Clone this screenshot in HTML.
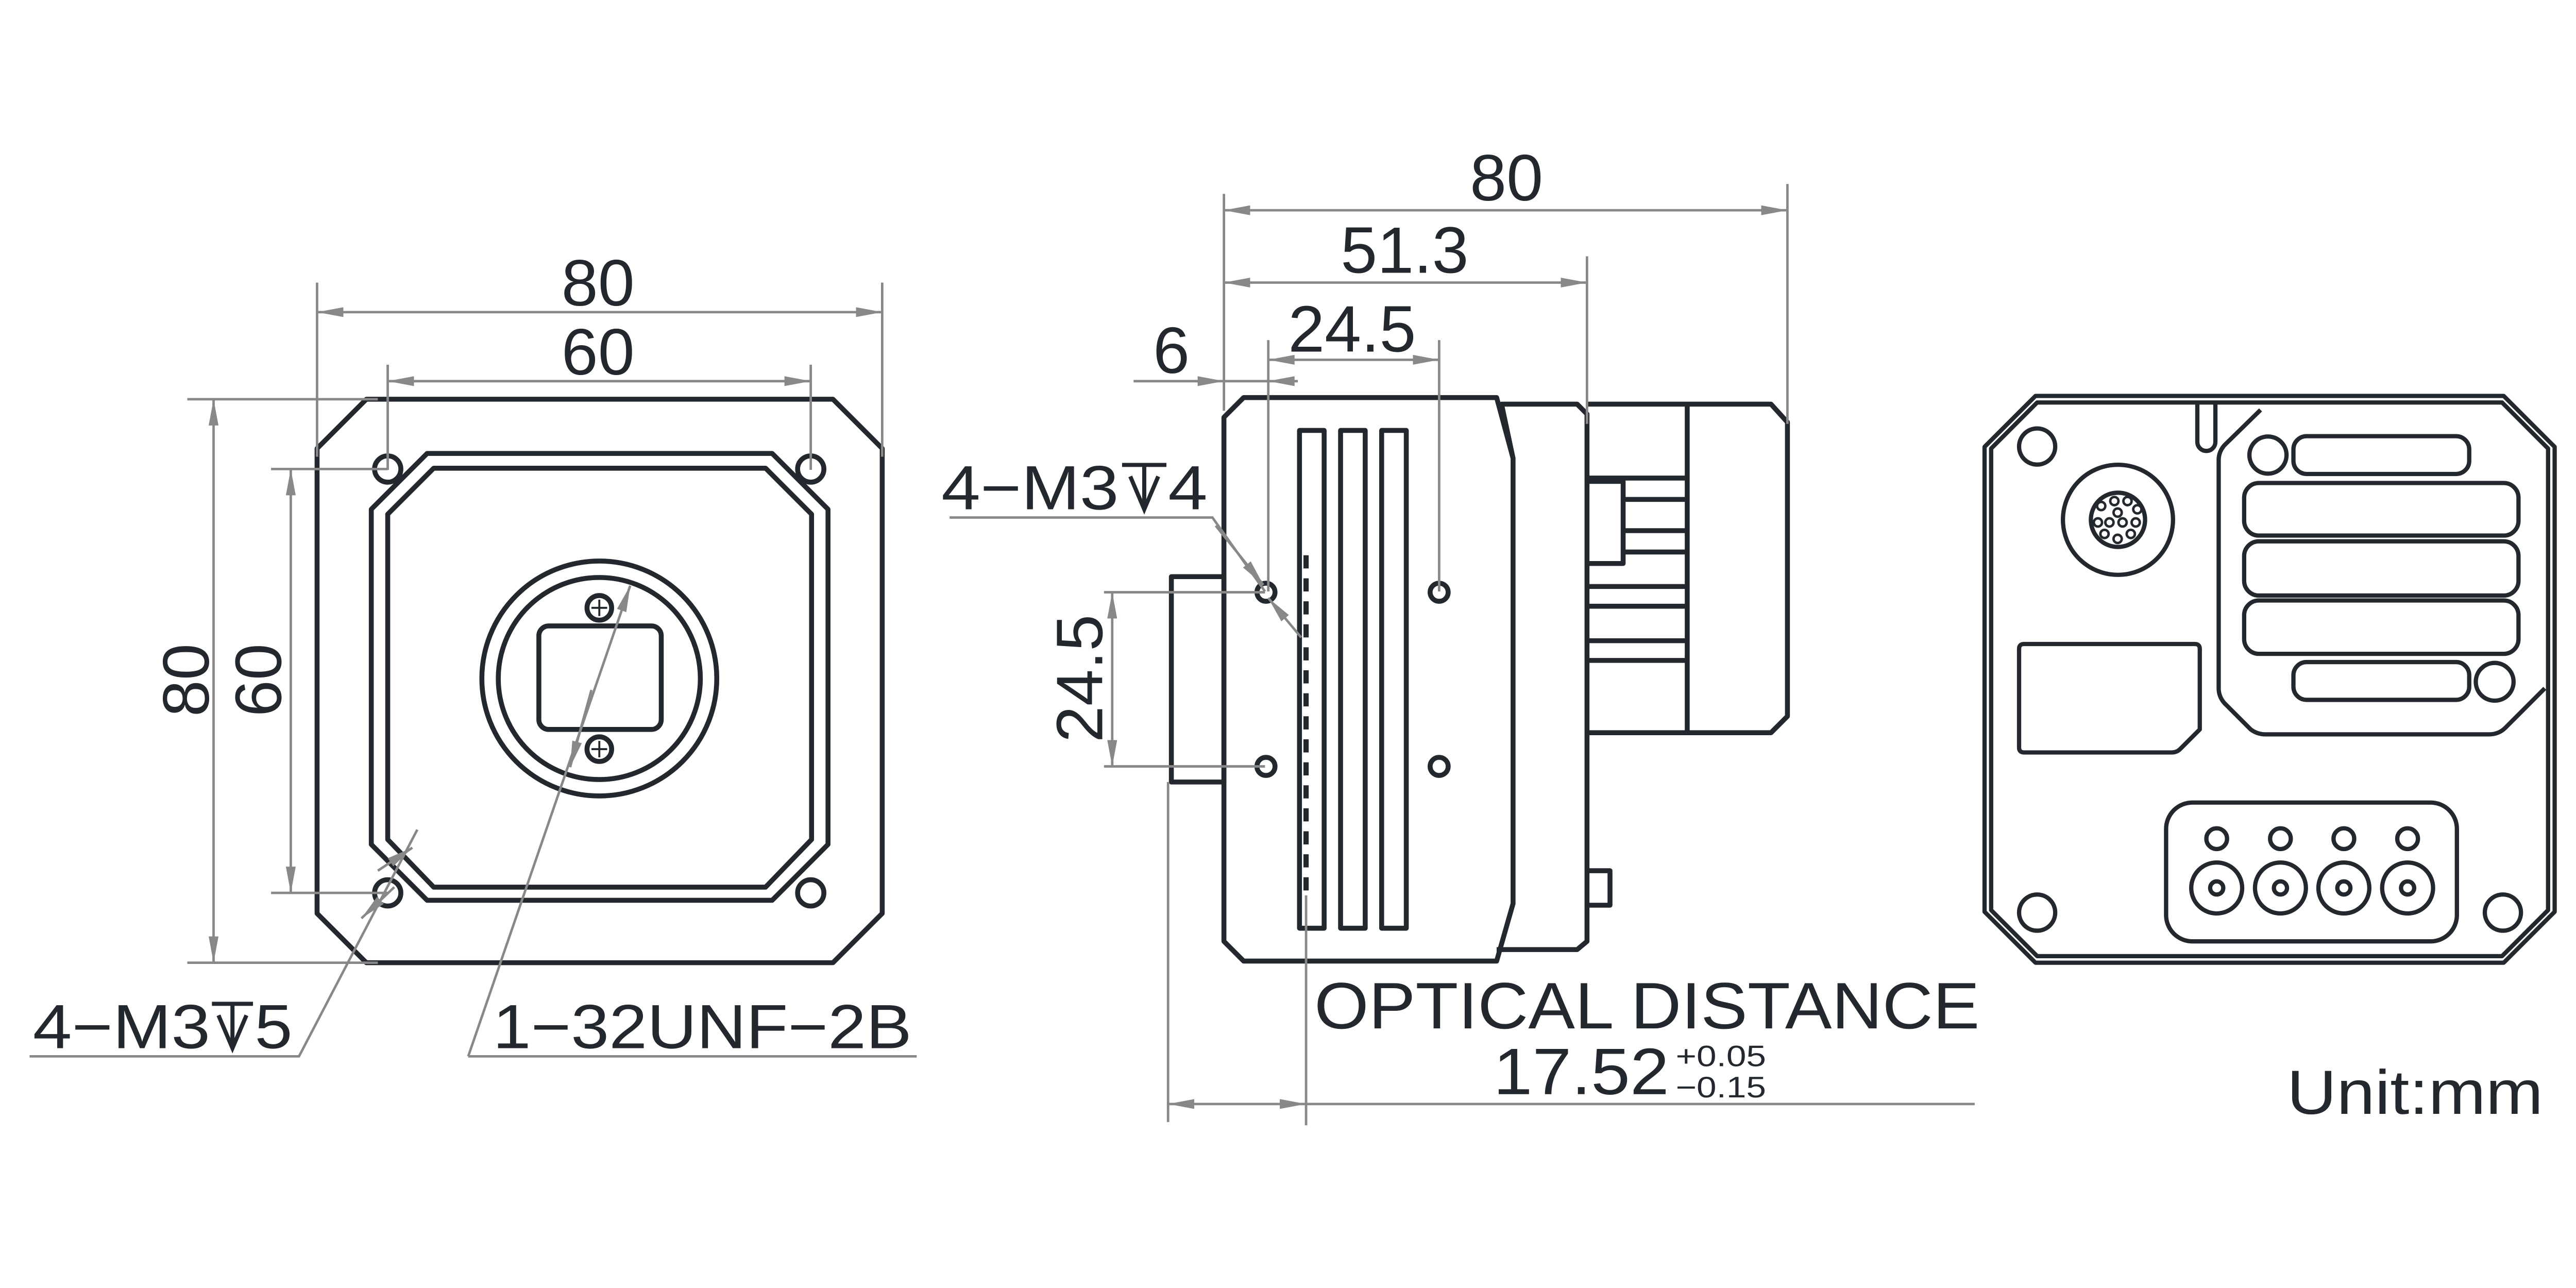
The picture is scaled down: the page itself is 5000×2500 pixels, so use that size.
<!DOCTYPE html>
<html><head><meta charset="utf-8"><style>
html,body{margin:0;padding:0;background:#fff;}
svg{display:block;}
text{font-family:"Liberation Sans",sans-serif;fill:#23282e;}
</style></head><body>
<svg width="5000" height="2500" viewBox="0 0 1568 784" preserveAspectRatio="none" xmlns="http://www.w3.org/2000/svg">
<defs>
<marker id="a" viewBox="0 0 16 6" refX="16" refY="3" markerWidth="16" markerHeight="6" markerUnits="userSpaceOnUse" orient="auto-start-reverse">
<path d="M0,0 L16,3 L0,6 Z" fill="#888"/></marker>
</defs>

<!-- ============ FRONT VIEW ============ -->
<g fill="none" stroke="#23282e" stroke-width="3" stroke-linejoin="round">
<path d="M223,243 L507,243 L537,273 L537,556 L507,586 L223,586 L193,556 L193,273 Z"/>
<path d="M260,276 L470,276 L504,310 L504,514 L470,548 L260,548 L226,514 L226,310 Z"/>
<path d="M264,285 L466,285 L494,313 L494,511 L466,540 L264,540 L236,511 L236,313 Z"/>
<circle cx="236" cy="285.5" r="8"/><circle cx="493.5" cy="285.5" r="8"/>
<circle cx="236" cy="543.5" r="8"/><circle cx="493.5" cy="543.5" r="8"/>
<circle cx="364.8" cy="413" r="71.5"/>
<circle cx="364.8" cy="413" r="61.5"/>
<rect x="328" y="381" width="74.5" height="63" rx="6"/>
<circle cx="364.8" cy="370" r="7.5"/><circle cx="364.8" cy="456" r="7.5"/>
</g>
<g stroke="#23282e" stroke-width="1.2"><path d="M360,370 h9.6 M364.8,365 v10 M360,456 h9.6 M364.8,451 v10"/></g>

<g stroke="#888" stroke-width="1.5" fill="none">
<path d="M193,172 V278 M537,172 V278"/>
<path d="M193,190 H537" marker-start="url(#a)" marker-end="url(#a)"/>
<path d="M236,222 V286 M493.5,222 V286"/>
<path d="M236,232 H493.5" marker-start="url(#a)" marker-end="url(#a)"/>
<path d="M114,243 H230 M114,586 H230"/>
<path d="M130,243 V586" marker-start="url(#a)" marker-end="url(#a)"/>
<path d="M165,285.5 H236 M165,543.5 H236"/>
<path d="M177,285.5 V543.5" marker-start="url(#a)" marker-end="url(#a)"/>
<path d="M18,643 H182 L254,505"/>
<path d="M240,540 L220,559" marker-end="url(#a)"/>
<path d="M230,530 L251,516" marker-end="url(#a)"/>
<path d="M285,643 H558"/>
<path d="M285,643 L383.6,356.5" marker-end="url(#a)"/>
<path d="M360,420 L347,467" marker-end="url(#a)"/>
</g>
<text x="364" y="186" font-size="40" text-anchor="middle">80</text>
<text x="364" y="228" font-size="40" text-anchor="middle">60</text>
<text transform="translate(127,414) rotate(-90)" font-size="40" text-anchor="middle">80</text>
<text transform="translate(171,414) rotate(-90)" font-size="40" text-anchor="middle">60</text>
<text x="20" y="638" font-size="38" textLength="108" lengthAdjust="spacingAndGlyphs">4−M3</text>
<path d="M129,611 H154 M141.5,611 V638 M133,618 L141.5,638 L150,618" fill="none" stroke="#23282e" stroke-width="2.5"/>
<text x="155" y="638" font-size="38" textLength="23" lengthAdjust="spacingAndGlyphs">5</text>
<text x="300" y="638" font-size="38" textLength="255" lengthAdjust="spacingAndGlyphs">1−32UNF−2B</text>

<!-- ============ SIDE VIEW ============ -->
<g fill="none" stroke="#23282e" stroke-width="3" stroke-linejoin="round">
<path d="M757,242 L911,242 L921,279 L921,550 L911,585 L757,585 L745,573 L745,254 Z"/>
<path d="M713,351 H745 V476 H713 Z"/>
<path d="M921,279 L914,246 L960,246 L966,252 L966,573 L960,578 L911,578"/>
<path d="M966,246 H1078 L1088,257 V436 L1078,446 H966"/>
<path d="M1027,246 V446"/>
<path d="M966,291 H1027 M988,304 H1027 M988,323 H1027 M988,336 H1027 M966,357 H1027 M966,369 H1027 M966,390 H1027 M966,402 H1027"/>
<path d="M966,293 H988 V343 H966"/>
<rect x="791" y="262" width="15" height="303"/>
<rect x="816" y="262" width="15" height="303"/>
<rect x="841" y="262" width="15" height="303"/>
<circle cx="770.6" cy="360.5" r="5.5"/><circle cx="876" cy="360.5" r="5.5"/>
<circle cx="770.6" cy="466.5" r="5.5"/><circle cx="876" cy="466.5" r="5.5"/>
<path d="M966,530 H980 V551 H966"/>
<path d="M795,338 V548" stroke-dasharray="8,6" stroke-width="3.2"/>
</g>
<g stroke="#888" stroke-width="1.5" fill="none">
<path d="M745,118 V250 M1088,112 V258 M966,156 V258 M772,207 V360 M876,207 V360"/>
<path d="M745,128 H1088" marker-start="url(#a)" marker-end="url(#a)"/>
<path d="M745,172 H966" marker-start="url(#a)" marker-end="url(#a)"/>
<path d="M772,219 H876" marker-start="url(#a)" marker-end="url(#a)"/>
<path d="M690,232 H745" marker-end="url(#a)"/>
<path d="M790,232 H772" marker-end="url(#a)"/>
<path d="M745,232 H772"/>
<path d="M672,360.5 H770 M672,466.5 H770"/>
<path d="M677,360.5 V466.5" marker-start="url(#a)" marker-end="url(#a)"/>
<path d="M578,315 H738 L770,360"/>
<path d="M740,320 L769,356" marker-end="url(#a)"/>
<path d="M792,388 L772,364" marker-end="url(#a)"/>
<path d="M711,476 V683 M795,545 V685"/>
<path d="M711,672 H795" marker-start="url(#a)" marker-end="url(#a)"/>
<path d="M795,672 H1202"/>
</g>
<text x="917" y="122" font-size="40" text-anchor="middle">80</text>
<text x="855" y="166" font-size="40" text-anchor="middle">51.3</text>
<text x="823" y="214" font-size="40" text-anchor="middle">24.5</text>
<text x="713" y="227" font-size="40" text-anchor="middle">6</text>
<text transform="translate(671,413) rotate(-90)" font-size="40" text-anchor="middle">24.5</text>
<text x="573" y="310" font-size="38" textLength="108" lengthAdjust="spacingAndGlyphs">4−M3</text>
<path d="M683,283 H710 M696.5,283 V310 M688,290 L696.5,310 L705,290" fill="none" stroke="#23282e" stroke-width="2.5"/>
<text x="711" y="310" font-size="38" textLength="24" lengthAdjust="spacingAndGlyphs">4</text>
<text x="800" y="626" font-size="40" textLength="405" lengthAdjust="spacingAndGlyphs">OPTICAL DISTANCE</text>
<text x="909" y="666" font-size="40" textLength="107" lengthAdjust="spacingAndGlyphs">17.52</text>
<text x="1020" y="649" font-size="18" textLength="55" lengthAdjust="spacingAndGlyphs">+0.05</text>
<text x="1020" y="668" font-size="18" textLength="55" lengthAdjust="spacingAndGlyphs">−0.15</text>

<!-- ============ BACK VIEW ============ -->
<g fill="none" stroke="#23282e" stroke-width="2.6" stroke-linejoin="round">
<path d="M1239,241 L1524,241 L1555,272 L1555,555 L1524,586 L1239,586 L1208,555 L1208,272 Z"/>
<path d="M1240,245 L1523,245 L1551,273 L1551,554 L1523,582 L1240,582 L1212,554 L1212,273 Z"/>
<circle cx="1240" cy="271.8" r="11"/><circle cx="1240" cy="555.5" r="11"/>
<circle cx="1523.5" cy="555.5" r="11"/><circle cx="1518.5" cy="415" r="11.5"/>
<circle cx="1289.2" cy="316.4" r="33.5"/><circle cx="1289.2" cy="316.4" r="16.5"/>
<path d="M1337.5,246 V269 A5.5,5.5 0 0 0 1348.5,269 V246"/>
<path d="M1376,249.5 L1354,271 Q1350.5,275 1350.5,280 V419 Q1350.5,424 1354,428 L1370,444 Q1374,447 1379,447 H1515 Q1521,447 1525,443 L1549,419"/>
<circle cx="1380.5" cy="277" r="11.3"/>
<rect x="1396" y="265.5" width="107" height="23" rx="8"/>
<rect x="1366" y="294" width="167" height="32" rx="9"/>
<rect x="1366" y="329.5" width="167" height="33" rx="9"/>
<rect x="1366" y="365.5" width="167" height="32.5" rx="9"/>
<rect x="1396" y="403" width="107" height="23" rx="8"/>
<path d="M1232,392 H1336 Q1339,392 1339,395 V444 L1327,456 Q1325,458 1322,458 H1232 Q1229,458 1229,455 V395 Q1229,392 1232,392 Z"/>
<rect x="1318.5" y="488.5" width="177" height="84.5" rx="16"/>
<circle cx="1349.3" cy="510.5" r="6.3"/><circle cx="1388.1" cy="510.5" r="6.3"/>
<circle cx="1426.7" cy="510.5" r="6.3"/><circle cx="1465.5" cy="510.5" r="6.3"/>
<circle cx="1349.3" cy="540.5" r="15.5"/><circle cx="1388.1" cy="540.5" r="15.5"/>
<circle cx="1426.7" cy="540.5" r="15.5"/><circle cx="1465.5" cy="540.5" r="15.5"/>
<circle cx="1349.3" cy="540.5" r="4"/><circle cx="1388.1" cy="540.5" r="4"/>
<circle cx="1426.7" cy="540.5" r="4"/><circle cx="1465.5" cy="540.5" r="4"/>
</g>
<g fill="none" stroke="#23282e" stroke-width="1.5">
<circle cx="1279" cy="308" r="2.5"/><circle cx="1287" cy="305" r="2.5"/><circle cx="1295" cy="305" r="2.5"/><circle cx="1301" cy="310" r="2.5"/>
<circle cx="1277" cy="318" r="2.5"/><circle cx="1284" cy="318" r="2.5"/><circle cx="1292" cy="318" r="2.5"/><circle cx="1300" cy="318" r="2.5"/>
<circle cx="1289" cy="312" r="2.5"/><circle cx="1281" cy="325" r="2.5"/><circle cx="1289" cy="328" r="2.5"/><circle cx="1297" cy="325" r="2.5"/>
</g>
<text x="1392" y="678" font-size="38" textLength="156" lengthAdjust="spacingAndGlyphs">Unit:mm</text>
</svg>
</body></html>
